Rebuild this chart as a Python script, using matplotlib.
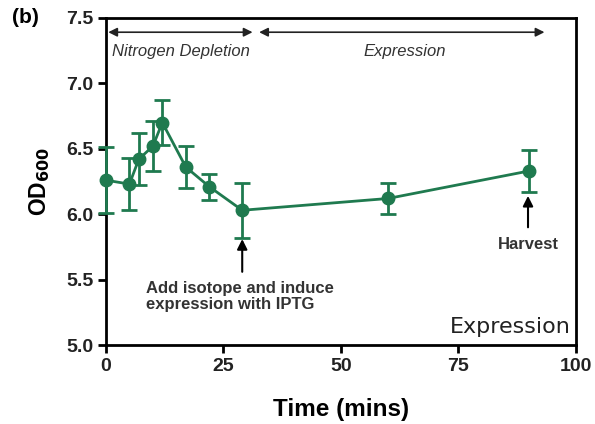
import matplotlib
matplotlib.use("Agg")
import matplotlib.pyplot as plt

plt.rcParams['font.family'] = ['Liberation Sans', 'DejaVu Sans']

# data
time = [0, 5, 7, 10, 12, 17, 22, 29, 60, 90]
od600 = [6.26, 6.23, 6.42, 6.52, 6.70, 6.36, 6.21, 6.03, 6.12, 6.33]
od_err = [0.25, 0.20, 0.20, 0.19, 0.17, 0.16, 0.10, 0.21, 0.12, 0.16]

green = "#1f7a4f"

fig = plt.figure(figsize=(5.95, 4.24), dpi=100)
ax = fig.add_axes([0.178, 0.186, 0.790, 0.772])

ax.errorbar(time, od600, yerr=od_err, color=green, marker='o', markersize=9,
            linewidth=2, elinewidth=2, capsize=6, capthick=2, clip_on=False, zorder=3)

ax.set_xlim(0, 100)
ax.set_ylim(5.0, 7.5)
ax.set_xticks([0, 25, 50, 75, 100])
ax.set_yticks([5.0, 5.5, 6.0, 6.5, 7.0, 7.5])
ax.set_yticklabels(["5.0", "5.5", "6.0", "6.5", "7.0", "7.5"])
for s in ax.spines.values():
    s.set_linewidth(2)
ax.tick_params(width=2, length=6, labelsize=14, pad=3)
for lab in ax.get_xticklabels() + ax.get_yticklabels():
    lab.set_fontweight('bold')
    lab.set_color('#222222')

ax.set_xlabel("Time (mins)", fontsize=17.5, fontweight='bold', labelpad=17)
ax.set_ylabel("OD$_{\\mathbf{600}}$", fontsize=16.5, fontweight='bold', labelpad=10)

# phase arrows along the top
arr = dict(arrowstyle='<|-|>', color='#222222', lw=1.2, mutation_scale=13, shrinkA=0, shrinkB=0)
ax.annotate("", xy=(0.5, 7.39), xytext=(31.2, 7.39), arrowprops=arr)
ax.annotate("", xy=(32.6, 7.39), xytext=(93.3, 7.39), arrowprops=arr)
ax.text(16, 7.24, "Nitrogen Depletion", style='italic', fontsize=12,
        ha='center', va='center', color='#333333')
ax.text(63.6, 7.24, "Expression", style='italic', fontsize=12,
        ha='center', va='center', color='#333333')

# event arrows
ev = dict(arrowstyle='-|>', color='black', lw=1.5, mutation_scale=15, shrinkA=0, shrinkB=0)
ax.annotate("", xy=(29, 5.81), xytext=(29, 5.56), arrowprops=ev)
ax.text(8.5, 5.49, "Add isotope and induce\nexpression with IPTG", fontsize=12,
        fontweight='bold', ha='left', va='top', color='#333333', linespacing=1.08)
ax.annotate("", xy=(89.8, 6.14), xytext=(89.8, 5.90), arrowprops=ev)
ax.text(89.8, 5.77, "Harvest", fontsize=12, fontweight='bold', ha='center',
        va='center', color='#333333')

ax.text(98.8, 5.14, "Expression", fontsize=16, ha='right', va='center',
        color='#222222', family='DejaVu Sans')

fig.text(0.02, 0.958, "(b)", fontsize=15, fontweight='bold', ha='left', va='center')

fig.savefig("out.png", dpi=100)
